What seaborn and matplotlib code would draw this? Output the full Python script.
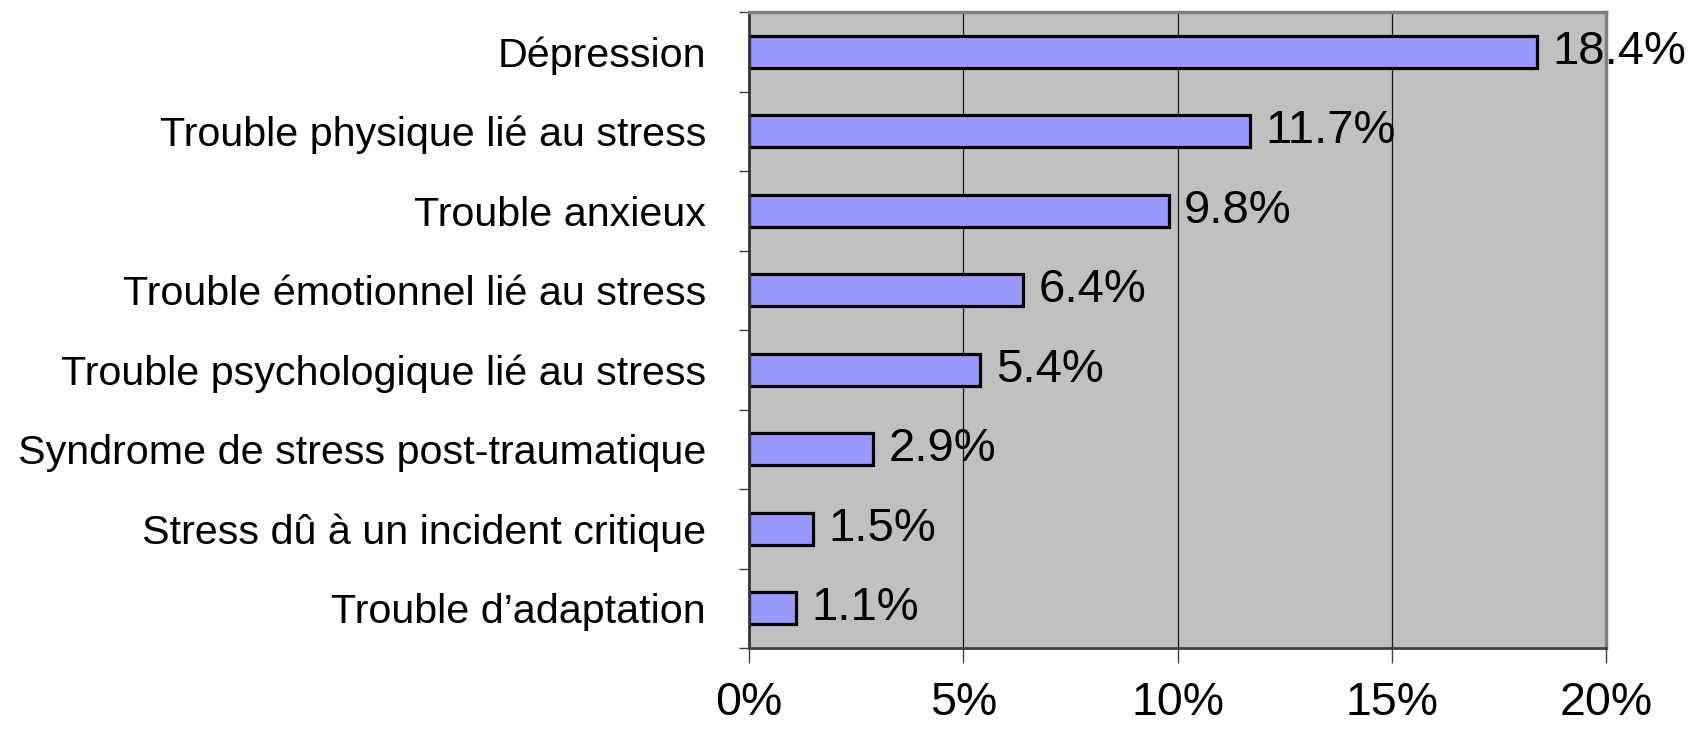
import matplotlib
matplotlib.use('Agg')
import matplotlib.pyplot as plt
import seaborn as sns
import pandas as pd
from matplotlib.ticker import FixedLocator

categories = ["Dépression", "Trouble physique lié au stress", "Trouble anxieux",
              "Trouble émotionnel lié au stress", "Trouble psychologique lié au stress",
              "Syndrome de stress post-traumatique", "Stress dû à un incident critique",
              "Trouble d’adaptation"]
values = [18.4, 11.7, 9.8, 6.4, 5.4, 2.9, 1.5, 1.1]
x_ticks = [0, 5, 10, 15, 20]
x_tick_labels = ["0%", "5%", "10%", "15%", "20%"]

plt.rcParams['font.family'] = ['Liberation Sans', 'DejaVu Sans']

df = pd.DataFrame({"category": categories, "value": values})

fig = plt.figure(figsize=(17.07, 7.34), dpi=100)
ax = fig.add_axes([749/1707, 1 - 648/734, (1606 - 749)/1707, (648 - 12)/734])
ax.set_facecolor('#C0C0C0')
ax.set_axisbelow(True)

sns.barplot(data=df, x="value", y="category", orient='h', color='#9999FF',
            saturation=1, edgecolor='black', linewidth=2.3, width=0.4, ax=ax)

ax.set_xlim(0, 20)
ax.set_ylim(len(categories) - 0.5, -0.5)
ax.xaxis.grid(True, color='#151515', lw=0.9)
ax.yaxis.grid(False)

ax.set_xticks(x_ticks)
ax.set_xticklabels(x_tick_labels, fontsize=33.5)
ax.tick_params(axis='x', length=11, width=1, color='#404040', pad=12.5)

ax.set_yticks(range(len(categories)))
ax.set_yticklabels(categories, fontsize=29.7)
ax.tick_params(axis='y', which='major', length=0, pad=31)
ax.yaxis.set_minor_locator(FixedLocator([i - 0.5 for i in range(len(categories) + 1)]))
ax.tick_params(axis='y', which='minor', length=7.5, width=1, color='#404040')

ax.set_xlabel('')
ax.set_ylabel('')

ax.spines['left'].set_color('#333333')
ax.spines['left'].set_linewidth(2)
ax.spines['bottom'].set_color('#404040')
ax.spines['bottom'].set_linewidth(2)
ax.spines['top'].set_color('#808080')
ax.spines['top'].set_linewidth(2.5)
ax.spines['right'].set_color('#808080')
ax.spines['right'].set_linewidth(2.5)

ax.bar_label(ax.containers[0], labels=[f"{v:.1f}%" for v in values],
             padding=11, fontsize=34)

fig.savefig('out.png', dpi=100)
